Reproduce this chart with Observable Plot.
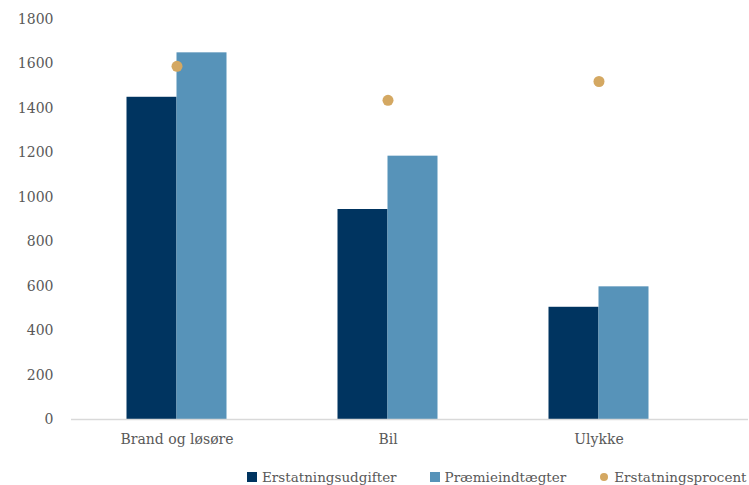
<!DOCTYPE html>
<html>
<head>
<meta charset="utf-8">
<script src="https://cdn.jsdelivr.net/npm/d3@7"></script>
<script src="https://cdn.jsdelivr.net/npm/@observablehq/plot@0.6"></script>
<style>
  html, body { margin: 0; padding: 0; background: #fff; }
  #chart { width: 749px; }
  .legend { display: flex; align-items: center; height: 21px; font-family: "DejaVu Serif", serif; font-size: 13.5px; color: #595959; white-space: nowrap; overflow: hidden; width: 749px; }
  .legend .sw { display: inline-block; width: 10px; height: 10px; margin-right: 5px; }
  .legend .dot { display: inline-block; width: 8px; height: 8px; border-radius: 50%; margin-right: 6px; }
</style>
</head>
<body>
<div id="chart"></div>
<script>
// Lines of business
const categories = ["Brand og løsøre", "Bil", "Ulykke"];
// Claims expenses and premium income (mio. kr.)
const erstatningsudgifter = [1450, 945, 505];
const praemieindtaegter = [1650, 1185, 597];
// Claims ratio in percent (secondary axis, 0–100 %)
const erstatningsprocent = [88.3, 79.8, 84.5];
const yTicks = [0, 200, 400, 600, 800, 1000, 1200, 1400, 1600, 1800];
const seriesNames = ["Erstatningsudgifter", "Præmieindtægter", "Erstatningsprocent"];
const colors = ["#003460", "#5793b9", "#d4a862"];

// Secondary axis: 0–100 % spans the same height as 0–1800 on the primary axis
const secondaryMax = 100;
const primaryMax = 1800;

const bars1 = categories.map((c, i) => ({category: c, value: erstatningsudgifter[i]}));
const bars2 = categories.map((c, i) => ({category: c, value: praemieindtaegter[i]}));
const dots = categories.map((c, i) => ({category: c, pct: erstatningsprocent[i], y: erstatningsprocent[i] / secondaryMax * primaryMax}));

const font = "'DejaVu Serif', serif";

const chart = Plot.plot({
  width: 749,
  height: 466,
  marginLeft: 71,
  marginRight: 1,
  marginTop: 19,
  marginBottom: 47,
  style: {fontFamily: font, fontSize: "14px", color: "#595959", background: "#fff"},
  x: {domain: categories, range: [71, 704], padding: 0, label: null},
  y: {domain: [0, primaryMax], label: null},
  marks: [
    Plot.axisY({ticks: yTicks, tickFormat: d3.format("d"), tickSize: 0, tickPadding: 18, label: null, fill: "#595959"}),
    Plot.axisX({tickSize: 0, tickPadding: 15, label: null, fill: "#595959"}),
    Plot.barY(bars1, {x: "category", y: "value", fill: colors[0], insetLeft: 55.5, insetRight: 105.5}),
    Plot.barY(bars2, {x: "category", y: "value", fill: colors[1], insetLeft: 105.5, insetRight: 55.5}),
    Plot.ruleY([0], {stroke: "#d9d9d9", strokeWidth: 1.5}),
    Plot.dot(dots, {x: "category", y: "y", r: 5.5, fill: colors[2], stroke: "none"})
  ]
});
document.getElementById("chart").appendChild(chart);

// Legend below the chart
const legend = document.createElement("div");
legend.className = "legend";
const offsets = [247, 33, 34];
seriesNames.forEach((name, i) => {
  const item = document.createElement("span");
  item.style.display = "inline-flex";
  item.style.alignItems = "center";
  item.style.marginLeft = offsets[i] + "px";
  const mark = document.createElement("span");
  mark.className = i === 2 ? "dot" : "sw";
  mark.style.background = colors[i];
  item.appendChild(mark);
  item.appendChild(document.createTextNode(name));
  legend.appendChild(item);
});
document.body.appendChild(legend);
</script>
</body>
</html>
